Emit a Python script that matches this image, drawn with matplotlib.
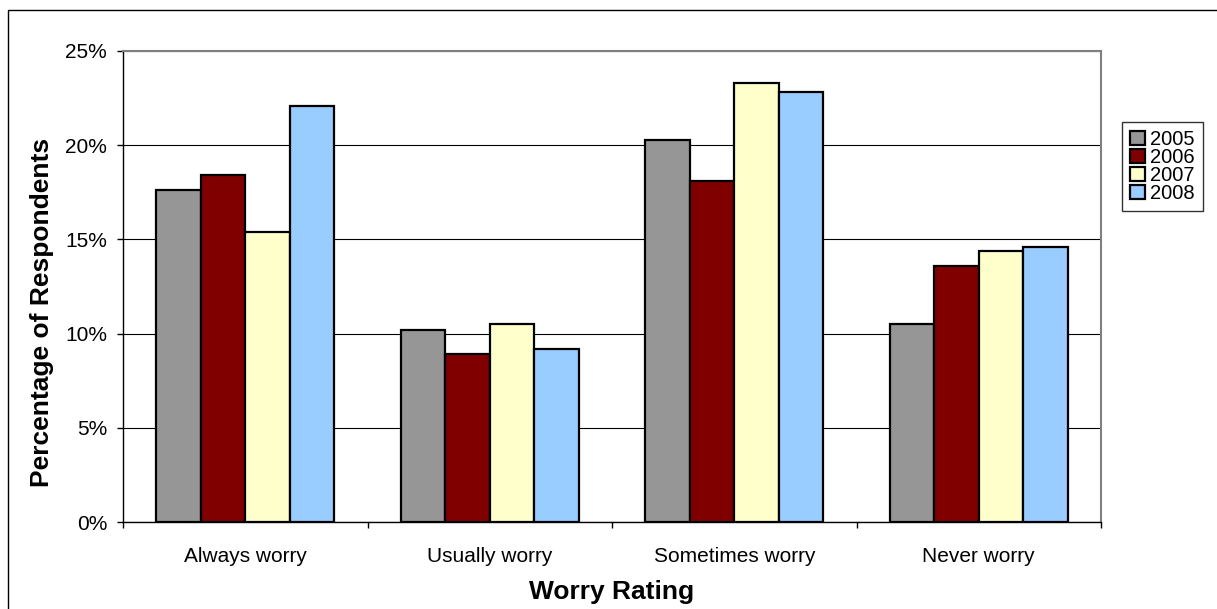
import matplotlib
matplotlib.use("Agg")
import matplotlib.pyplot as plt
from matplotlib.patches import Rectangle
from matplotlib.ticker import FuncFormatter, MultipleLocator
import numpy as np

categories = ["Always worry", "Usually worry", "Sometimes worry", "Never worry"]
years = ["2005", "2006", "2007", "2008"]
v2005 = [17.6, 10.2, 20.3, 10.5]
v2006 = [18.4, 8.9, 18.1, 13.6]
v2007 = [15.4, 10.5, 23.3, 14.4]
v2008 = [22.1, 9.2, 22.8, 14.6]
series = [v2005, v2006, v2007, v2008]
colors = ["#969696", "#800000", "#FFFFCC", "#99CCFF"]

plt.rcParams['font.family'] = ['Liberation Sans', 'DejaVu Sans']

fig = plt.figure(figsize=(12.17, 6.09), dpi=100)
ax = fig.add_axes([123/1217, 1 - 522/609, (1101-123)/1217, (522-51)/609])

# outer chart frame
fig.patches.append(Rectangle((8/1217, -0.01), 1.0, 1 - 10/609 + 0.01,
                             transform=fig.transFigure, fill=False,
                             edgecolor="black", linewidth=1.0))

x = np.arange(len(categories))
w = 0.182
for i, (vals, c, y) in enumerate(zip(series, colors, years)):
    ax.bar(x + (i - 1.5) * w, vals, width=w, color=c, edgecolor="black",
           linewidth=1.6, label=y, zorder=3)

ax.set_xlim(-0.5, 3.5)
ax.set_ylim(0, 25)
ax.yaxis.set_major_locator(MultipleLocator(5))
ax.yaxis.set_major_formatter(FuncFormatter(lambda v, p: f"{int(v)}%"))
ax.grid(axis="y", color="black", linewidth=0.8, zorder=0)
ax.set_axisbelow(True)

ax.set_xticks(x)
ax.set_xticklabels(categories, fontsize=15)
ax.set_xticks(np.arange(-0.5, 4.0, 1.0), minor=True)
ax.tick_params(axis="x", which="major", length=0, pad=18)
ax.tick_params(axis="x", which="minor", length=4.5, width=1, direction="out")
ax.tick_params(axis="y", length=4.5, width=1, direction="out", labelsize=15, pad=7)

for side in ["left", "bottom"]:
    ax.spines[side].set_color("black")
    ax.spines[side].set_linewidth(1.0)
for side in ["top", "right"]:
    ax.spines[side].set_color("#808080")
    ax.spines[side].set_linewidth(1.5)

ax.set_ylabel("Percentage of Respondents", fontsize=19, fontweight="bold")
ax.yaxis.set_label_coords(-0.071, 0.444)
ax.set_xlabel("Worry Rating", fontsize=19, fontweight="bold", labelpad=10)

leg = ax.legend(loc="upper left", bbox_to_anchor=(1122/1217, 1 - 122/609),
                bbox_transform=fig.transFigure, fontsize=14.5, frameon=True,
                fancybox=False, edgecolor="black", handlelength=0.75,
                handleheight=0.75, handletextpad=0.25, borderpad=0.4,
                labelspacing=-0.05, borderaxespad=0)
leg.get_frame().set_linewidth(1.0)

fig.savefig("out.png", dpi=100)
